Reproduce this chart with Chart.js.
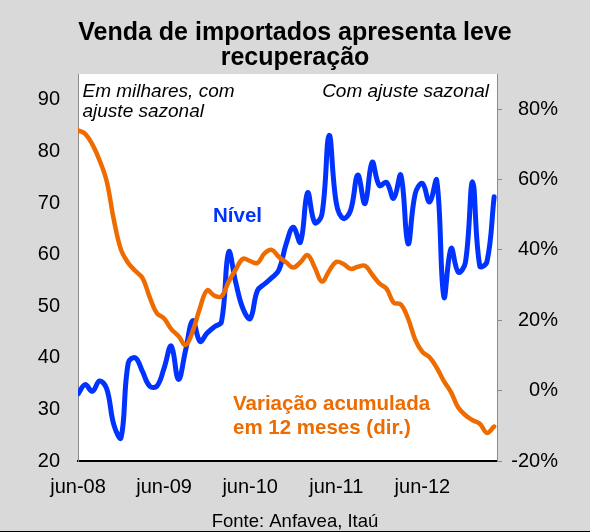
<!DOCTYPE html>
<html>
<head>
<meta charset="utf-8">
<script src="https://cdn.jsdelivr.net/npm/chart.js@4.4.1/dist/chart.umd.min.js"></script>
<style>
  html, body { margin: 0; padding: 0; background: #d9d9d9; }
  #wrap { width: 590px; height: 532px; position: relative; }
</style>
</head>
<body>
<div id="wrap"><canvas id="c" width="590" height="532"></canvas></div>
<script>
// ---- Data ----
const months = [
  "jun-08","jul-08","ago-08","set-08","out-08","nov-08","dez-08",
  "jan-09","fev-09","mar-09","abr-09","mai-09","jun-09","jul-09","ago-09","set-09","out-09","nov-09","dez-09",
  "jan-10","fev-10","mar-10","abr-10","mai-10","jun-10","jul-10","ago-10","set-10","out-10","nov-10","dez-10",
  "jan-11","fev-11","mar-11","abr-11","mai-11","jun-11","jul-11","ago-11","set-11","out-11","nov-11","dez-11",
  "jan-12","fev-12","mar-12","abr-12","mai-12","jun-12","jul-12","ago-12","set-12","out-12","nov-12","dez-12",
  "jan-13","fev-13","mar-13","abr-13"
];

// Nível (milhares, com ajuste sazonal) - eixo esquerdo
const nivel = [
  33.0, 34.8, 33.5, 35.5, 34.0, 27.0, 24.5, 39.0, 40.0, 37.3,
  34.5, 34.5, 38.0, 42.3, 35.8, 41.5, 47.2, 43.2, 44.8, 46.0,
  47.0, 60.5, 54.5, 49.5, 47.6, 53.0, 54.3, 55.5, 57.0, 62.0,
  65.3, 62.4, 72.0, 66.2, 67.8, 83.1, 70.0, 67.0, 68.6, 75.4,
  69.9, 77.9, 73.4, 74.0, 70.9, 75.4, 62.1, 71.8, 73.8, 70.2,
  74.4, 51.8, 61.2, 56.6, 58.5, 74.1, 57.8, 58.6, 71.2
];

// Variação acumulada em 12 meses (%) - eixo direito
const variacao = [
  74.0, 73.0, 70.0, 65.5, 59.5, 48.5, 40.0, 36.3, 34.0, 32.0,
  26.5, 22.0, 20.5, 17.5, 15.5, 13.0, 17.0, 23.5, 28.5, 27.0,
  26.8, 31.0, 34.5, 37.5, 36.8, 36.3, 39.0, 40.0, 38.0, 36.5,
  35.0, 36.5, 38.5, 35.0, 31.0, 34.0, 36.6, 36.0, 34.6, 35.2,
  35.5, 33.0, 30.5, 29.0, 25.0, 24.5, 20.5, 14.5, 11.0, 9.5,
  6.5, 2.7, -0.5, -4.8, -7.0, -8.4, -9.4, -12.0, -10.2
];

const xTickLabels = ["jun-08","jun-09","jun-10","jun-11","jun-12"];
const leftTicks = [20, 30, 40, 50, 60, 70, 80, 90];
const rightTicks = [-20, 0, 20, 40, 60, 80];

// ---- Styling ----
const FONT = "'Liberation Sans', Arial, Helvetica, sans-serif";
const BLUE = "#0033FF";
const ORANGE = "#EE6B00";
const AXIS_GRAY = "#8a8a8a";

Chart.defaults.font.family = FONT;
Chart.defaults.color = "#000";

const textPlugin = {
  id: "decor",
  beforeDraw(chart) {
    const ctx = chart.ctx;
    const a = chart.chartArea;
    ctx.save();
    ctx.fillStyle = "#d9d9d9";
    ctx.fillRect(0, 0, chart.width, chart.height);
    ctx.fillStyle = "#ffffff";
    ctx.fillRect(a.left, a.top, a.right - a.left, a.bottom - a.top);
    ctx.restore();
  },
  afterDraw(chart) {
    const ctx = chart.ctx;
    ctx.save();
    ctx.textBaseline = "alphabetic";
    // Title
    ctx.fillStyle = "#000";
    ctx.textAlign = "center";
    ctx.font = "bold 25px " + FONT;
    ctx.fillText("Venda de importados apresenta leve", 295, 39.5);
    ctx.fillText("recuperação", 295, 65);
    // Left note
    ctx.textAlign = "left";
    ctx.font = "italic 19px " + FONT;
    ctx.fillText("Em milhares, com", 82.5, 97);
    ctx.fillText("ajuste sazonal", 82.5, 116.5);
    // Right note
    ctx.textAlign = "right";
    ctx.fillText("Com ajuste sazonal", 489, 97);
    // Series labels
    ctx.textAlign = "left";
    ctx.font = "bold 20.5px " + FONT;
    ctx.fillStyle = BLUE;
    ctx.fillText("Nível", 213, 221.5);
    ctx.fillStyle = ORANGE;
    ctx.fillText("Variação acumulada", 233, 409.5);
    ctx.fillText("em 12 meses (dir.)", 233, 433.5);
    // Source
    ctx.fillStyle = "#000";
    ctx.textAlign = "center";
    ctx.font = "18.5px " + FONT;
    ctx.fillText("Fonte: Anfavea, Itaú", 295, 526.5);
    // bottom frame line
    ctx.fillStyle = "#000";
    ctx.fillRect(0, 531, chart.width, 1);
    ctx.restore();
  }
};

new Chart(document.getElementById("c"), {
  type: "line",
  data: {
    datasets: [
      {
        label: "Variação acumulada em 12 meses (dir.)",
        data: variacao.map((v, i) => ({ x: i, y: v })),
        yAxisID: "yR",
        borderColor: ORANGE,
        borderWidth: 4.5,
        tension: 0.4,
        pointRadius: 0,
        borderCapStyle: "round",
        borderJoinStyle: "round",
        order: 0
      },
      {
        label: "Nível",
        data: nivel.map((v, i) => ({ x: i, y: v })),
        yAxisID: "yL",
        borderColor: BLUE,
        borderWidth: 5,
        tension: 0.4,
        pointRadius: 0,
        borderCapStyle: "round",
        borderJoinStyle: "round",
        order: 1
      }
    ]
  },
  options: {
    responsive: false,
    animation: false,
    devicePixelRatio: 1,
    layout: { padding: { top: 74, right: 32, bottom: 0, left: 0 } },
    plugins: {
      legend: { display: false },
      title: { display: false },
      tooltip: { enabled: false }
    },
    scales: {
      x: {
        type: "linear",
        min: 0,
        max: 58.4,
        afterBuildTicks: (s) => { s.ticks = xTickLabels.map(l => ({ value: months.indexOf(l) })); },
        afterFit: (s) => { s.height = 71; },
        ticks: {
          callback: (v) => months[v],
          font: { size: 20 },
          color: "#000",
          padding: 14,
          maxRotation: 0,
          autoSkip: false
        },
        grid: { display: false, drawTicks: false },
        border: { display: true, color: "#000", width: 2 }
      },
      yL: {
        position: "left",
        min: 20,
        max: 95,
        afterBuildTicks: (s) => { s.ticks = leftTicks.map(v => ({ value: v })); },
        afterFit: (s) => { s.width = 78; },
        ticks: { font: { size: 20 }, color: "#000", padding: 18 },
        grid: { display: false, drawTicks: false },
        border: { display: true, color: AXIS_GRAY, width: 1 }
      },
      yR: {
        position: "right",
        min: -20,
        max: 90,
        afterBuildTicks: (s) => { s.ticks = rightTicks.map(v => ({ value: v })); },
        afterFit: (s) => { s.width = 61; },
        ticks: {
          callback: (v) => v + "%",
          font: { size: 20 },
          color: "#000",
          padding: 12,
          crossAlign: "far"
        },
        grid: { drawOnChartArea: false, drawTicks: true, tickLength: 5, color: AXIS_GRAY, lineWidth: 1 },
        border: { display: true, color: AXIS_GRAY, width: 1 }
      }
    }
  },
  plugins: [textPlugin]
});
</script>
</body>
</html>
